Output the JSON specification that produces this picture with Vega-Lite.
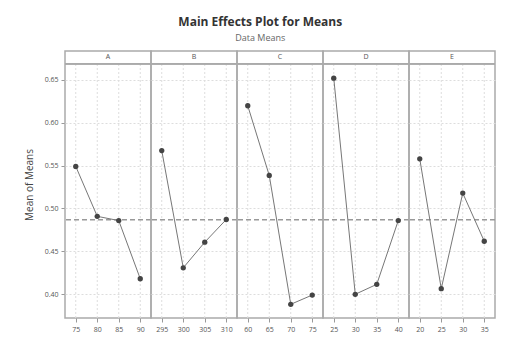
{
  "$schema": "https://vega.github.io/schema/vega-lite/v6.json",
  "background": "white",
  "padding": {"left": 24, "top": 16, "right": 5, "bottom": 5},
  "bounds": "flush",
  "title": {
    "text": "Main Effects Plot for Means",
    "subtitle": "Data Means",
    "font": "Open Sans",
    "fontSize": 12,
    "fontWeight": "bold",
    "color": "#333333",
    "subtitleFont": "Open Sans",
    "subtitleFontSize": 9,
    "subtitleColor": "#666666",
    "subtitlePadding": 5,
    "anchor": "middle",
    "offset": 6
  },
  "data": {
    "values": [
      {"Factor": "A", "Level": 75, "Mean": 0.549},
      {"Factor": "A", "Level": 80, "Mean": 0.4907},
      {"Factor": "A", "Level": 85, "Mean": 0.4857},
      {"Factor": "A", "Level": 90, "Mean": 0.4178},
      {"Factor": "B", "Level": 295, "Mean": 0.5674},
      {"Factor": "B", "Level": 300, "Mean": 0.4306},
      {"Factor": "B", "Level": 305, "Mean": 0.4605},
      {"Factor": "B", "Level": 310, "Mean": 0.487},
      {"Factor": "C", "Level": 60, "Mean": 0.6198},
      {"Factor": "C", "Level": 65, "Mean": 0.5384},
      {"Factor": "C", "Level": 70, "Mean": 0.388},
      {"Factor": "C", "Level": 75, "Mean": 0.3988},
      {"Factor": "D", "Level": 25, "Mean": 0.652},
      {"Factor": "D", "Level": 30, "Mean": 0.3997},
      {"Factor": "D", "Level": 35, "Mean": 0.4113},
      {"Factor": "D", "Level": 40, "Mean": 0.4857},
      {"Factor": "E", "Level": 20, "Mean": 0.5578},
      {"Factor": "E", "Level": 25, "Mean": 0.4062},
      {"Factor": "E", "Level": 30, "Mean": 0.5178},
      {"Factor": "E", "Level": 35, "Mean": 0.4616}
    ]
  },
  "facet": {
    "column": {"field": "Factor", "type": "nominal", "header": {"labels": false, "title": null}}
  },
  "spacing": 0,
  "resolve": {"scale": {"x": "independent"}},
  "spec": {
    "width": 86,
    "height": 267,
    "layer": [
      {
        "mark": {"type": "rule", "color": "#dddddd", "strokeDash": [2, 2], "strokeWidth": 1},
        "encoding": {
          "x": {"field": "Level", "type": "ordinal", "scale": {"type": "point", "padding": 0.5},
            "axis": {"title": null, "labelAngle": 0, "grid": false, "domain": false, "tickColor": "#999999", "tickSize": 4,
              "labelFontSize": 7, "labelColor": "#555555", "labelFont": "Open Sans", "labelPadding": 3}},
          "y": {"datum": 0.372, "type": "quantitative"},
          "y2": {"datum": 0.6686}
        }
      },
      {
        "mark": {"type": "rule", "color": "#999999", "strokeDash": [5, 3], "strokeWidth": 1},
        "encoding": {"y": {"datum": 0.4868, "type": "quantitative"}}
      },
      {
        "mark": {"type": "rule", "color": "#aaaaaa", "strokeWidth": 1.2},
        "encoding": {"y": {"datum": 0.6686, "type": "quantitative"}}
      },
      {
        "transform": [{"aggregate": [{"op": "count", "as": "n"}], "groupby": ["Factor"]}],
        "mark": {"type": "text", "fontSize": 7, "color": "#555555", "font": "Open Sans", "baseline": "middle"},
        "encoding": {
          "x": {"value": {"expr": "child_width/2"}},
          "y": {"datum": 0.6762, "type": "quantitative"},
          "text": {"field": "Factor"}
        }
      },
      {
        "mark": {"type": "line", "color": "#777777", "strokeWidth": 1},
        "encoding": {
          "x": {"field": "Level", "type": "ordinal", "scale": {"type": "point", "padding": 0.5}},
          "y": {"field": "Mean", "type": "quantitative",
            "scale": {"domain": [0.372, 0.6837], "nice": false, "zero": false},
            "axis": {"title": "Mean of Means", "values": [0.4, 0.45, 0.5, 0.55, 0.6, 0.65], "format": ".2f",
              "grid": true, "gridDash": [2, 2], "gridColor": "#dddddd", "domain": false, "tickColor": "#999999", "tickSize": 4,
              "labelFontSize": 7, "labelColor": "#555555", "labelFont": "Open Sans", "labelPadding": 3,
              "titleFont": "Open Sans", "titleFontSize": 10, "titleFontWeight": "normal", "titleColor": "#444444", "titlePadding": 10}}
        }
      },
      {
        "mark": {"type": "point", "filled": true, "shape": "circle", "color": "#444444", "size": 28, "opacity": 1},
        "encoding": {
          "x": {"field": "Level", "type": "ordinal", "scale": {"type": "point", "padding": 0.5}},
          "y": {"field": "Mean", "type": "quantitative"}
        }
      }
    ]
  },
  "config": {
    "view": {"stroke": "#aaaaaa", "strokeWidth": 1.5}
  }
}
